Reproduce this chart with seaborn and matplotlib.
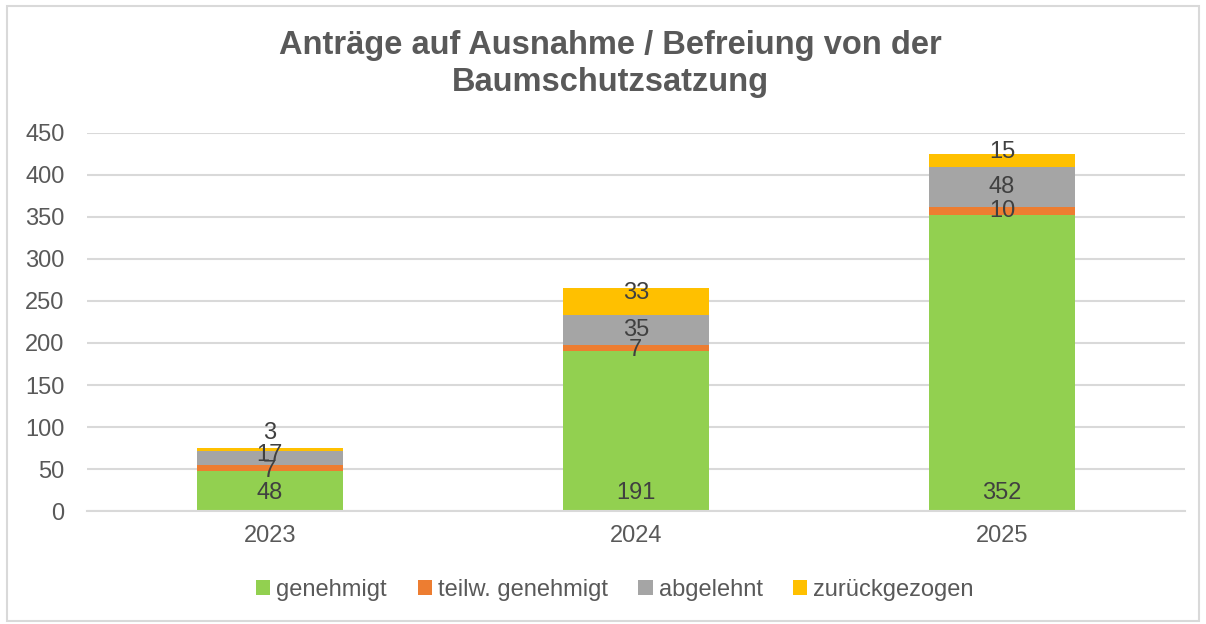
import numpy as np
import pandas as pd
import seaborn as sns
import matplotlib.pyplot as plt
from matplotlib.patches import Rectangle

# --- Data ----------------------------------------------------------------
years = ["2023", "2024", "2025"]
genehmigt = [48, 191, 352]
teilw_genehmigt = [7, 7, 10]
abgelehnt = [17, 35, 48]
zurueckgezogen = [3, 33, 15]

series_names = ["genehmigt", "teilw. genehmigt", "abgelehnt", "zurückgezogen"]
series_values = [genehmigt, teilw_genehmigt, abgelehnt, zurueckgezogen]
colors = ["#92D050", "#ED7D31", "#A5A5A5", "#FFC000"]

y_ticks = [0, 50, 100, 150, 200, 250, 300, 350, 400, 450]

sns.set_theme(style="white")
plt.rcParams['font.family'] = ['Liberation Sans', 'DejaVu Sans']

fig = plt.figure(figsize=(12.06, 6.24), dpi=100)
ax = fig.add_axes([0.072, 0.181, 0.9105, 0.606])

bottom = np.zeros(len(years))
for name, vals, col in zip(series_names, series_values, colors):
    df = pd.DataFrame({"Jahr": years, "Anzahl": vals})
    sns.barplot(data=df, x="Jahr", y="Anzahl", color=col, width=0.4,
                bottom=bottom.copy(), ax=ax, label=name, saturation=1,
                linewidth=0)
    bottom += np.array(vals)

# data labels: first series at inside base, others centered
label_color = "#404040"
for i, cont in enumerate(ax.containers):
    vals = series_values[i]
    for j, bar in enumerate(cont):
        xc = bar.get_x() + bar.get_width() / 2
        y0 = bar.get_y()
        h = bar.get_height()
        if i == 0:
            ax.annotate(str(vals[j]), (xc, y0), xytext=(0, 5), textcoords="offset points",
                        ha="center", va="bottom", fontsize=17, color=label_color)
        else:
            dy = 0
            if i == 3:
                dy = 12 if h < 5 else 6
            if i == 2 and h < 20:
                dy = 2
            if i == 1 and h < 9:
                dy = -2
            ax.annotate(str(vals[j]), (xc, y0 + h / 2), xytext=(0, dy), textcoords="offset points",
                        ha="center", va="center", fontsize=17, color=label_color)

ax.set_xlim(-0.5, 2.5)
ax.set_ylim(0, 450)
ax.set_yticks(y_ticks)
ax.set_xlabel("")
ax.set_ylabel("")
ax.tick_params(axis="both", length=0, labelsize=17, colors="#595959")
ax.tick_params(axis="y", pad=16)
ax.tick_params(axis="x", pad=10)
ax.yaxis.grid(True, color="#D9D9D9", linewidth=1.5)
ax.set_axisbelow(True)
for side in ("top", "left", "right"):
    ax.spines[side].set_visible(False)
ax.spines["bottom"].set_color("#D9D9D9")
ax.spines["bottom"].set_linewidth(1.5)
if ax.get_legend() is not None:
    ax.get_legend().remove()

fig.suptitle("Anträge auf Ausnahme / Befreiung von der\nBaumschutzsatzung",
             x=0.506, y=0.952, fontsize=23.5, fontweight="bold", color="#595959",
             linespacing=1.25)

handles, labels = ax.get_legend_handles_labels()
leg = fig.legend(handles, labels, loc="center", bbox_to_anchor=(0.51, 0.054), ncol=4,
                 frameon=False, fontsize=17, handlelength=0.6, handleheight=0.6,
                 handletextpad=0.25, columnspacing=1.3)
for t in leg.get_texts():
    t.set_color("#595959")

fig.patches.append(Rectangle((0.006, 0.005), 0.988, 0.985, transform=fig.transFigure,
                             fill=False, edgecolor="#D9D9D9", linewidth=1.5))

fig.savefig("out.png", dpi=100)
